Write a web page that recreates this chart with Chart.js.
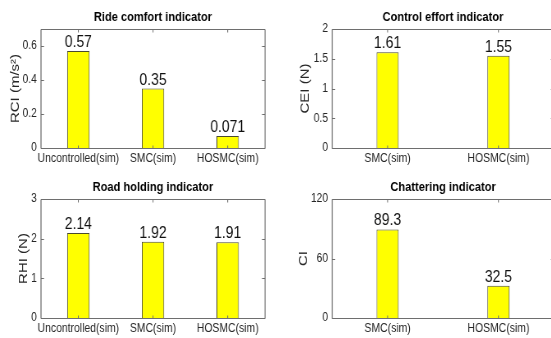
<!DOCTYPE html>
<html>
<head>
<meta charset="utf-8">
<script src="https://cdn.jsdelivr.net/npm/chart.js@4"></script>
<style>
  html, body { margin: 0; padding: 0; background: #fff; width: 551px; height: 338px; overflow: hidden; position: relative; }
  /* the source figure is squeezed sideways, so each panel is drawn wide and squeezed */
  .cell { position: absolute; height: 170px; transform: scaleX(0.82); transform-origin: 0 0; }
</style>
</head>
<body>
<div class="cell" style="left:0;top:0;width:335.4px"><canvas id="rciChart"></canvas></div>
<div class="cell" style="left:275px;top:0;width:341.5px"><canvas id="ceiChart"></canvas></div>
<div class="cell" style="left:0;top:170px;width:335.4px"><canvas id="rhiChart"></canvas></div>
<div class="cell" style="left:275px;top:170px;width:341.5px"><canvas id="ciChart"></canvas></div>
<script>
const catsAll = ['Uncontrolled(sim)', 'SMC(sim)', 'HOSMC(sim)']
const catsCtrl = ['SMC(sim)', 'HOSMC(sim)']

const rci = [0.57, 0.35, 0.071]
const cei = [1.61, 1.55]
const rhi = [2.14, 1.92, 1.91]
const ci = [89.3, 32.5]

const rciTicks = [0, 0.2, 0.4, 0.6]
const ceiTicks = [0, 0.5, 1, 1.5, 2]
const rhiTicks = [0, 1, 2, 3]
const ciTicks = [0, 60, 120]

const squeeze = 0.82
const textColor = '#262626'
const lineColor = '#6e6e6e'
const font = '"Liberation Sans", Arial, sans-serif'

// box round the plot with inward ticks, like matlab axes
const frame = {
  id: 'frame',
  afterDraw(chart) {
    const { ctx, chartArea: a, scales } = chart
    const L = a.left, R = a.right
    const T = Math.round(a.top) + 0.5, B = Math.round(a.bottom) + 0.5
    ctx.save()
    ctx.strokeStyle = lineColor
    // horizontal edges
    ctx.lineWidth = 1
    ctx.beginPath()
    ctx.moveTo(L, T); ctx.lineTo(R, T)
    ctx.moveTo(L, B); ctx.lineTo(R, B)
    scales.x.ticks.forEach((t, i) => {
      const x = scales.x.getPixelForTick(i)
      ctx.moveTo(x, B); ctx.lineTo(x, B - 3)
      ctx.moveTo(x, T); ctx.lineTo(x, T + 3)
    })
    ctx.stroke()
    // vertical edges, thicker so they survive the squeeze
    ctx.lineWidth = 1 / squeeze
    ctx.beginPath()
    ctx.moveTo(L, T); ctx.lineTo(L, B)
    ctx.moveTo(R, T); ctx.lineTo(R, B)
    ctx.stroke()
    ctx.lineWidth = 1
    ctx.beginPath()
    scales.y.ticks.forEach(t => {
      const y = Math.round(scales.y.getPixelForValue(t.value)) + 0.5
      ctx.moveTo(L, y); ctx.lineTo(L + 3.7, y)
      ctx.moveTo(R, y); ctx.lineTo(R - 3.7, y)
    })
    ctx.stroke()
    ctx.restore()
  }
}

// value written above each bar
const barValues = {
  id: 'barValues',
  afterDatasetsDraw(chart) {
    const { ctx } = chart
    const ds = chart.data.datasets[0]
    ctx.save()
    ctx.fillStyle = '#111'
    ctx.font = '17px ' + font
    ctx.textAlign = 'center'
    ctx.textBaseline = 'alphabetic'
    chart.getDatasetMeta(0).data.forEach((bar, i) => {
      ctx.fillText(String(ds.data[i]), bar.x, bar.y - 4)
    })
    ctx.restore()
  }
}

function makeChart(id, cfg) {
  return new Chart(document.getElementById(id), {
    type: 'bar',
    data: {
      labels: cfg.labels,
      datasets: [{
        data: cfg.values,
        backgroundColor: '#ffff00',
        borderColor: '#4a4a30',
        borderWidth: 1,
        barPercentage: cfg.barPct,
        categoryPercentage: 1
      }]
    },
    plugins: [frame, barValues],
    options: {
      responsive: true,
      maintainAspectRatio: false,
      animation: false,
      layout: { padding: { left: 0, right: cfg.padRight, top: 0, bottom: 0 } },
      plugins: {
        legend: { display: false },
        tooltip: { enabled: false },
        title: {
          display: true,
          text: cfg.title,
          fullSize: false,
          color: '#000',
          font: { family: font, size: 13.5, weight: 'bold', lineHeight: 1.2 },
          padding: { top: 9.5, bottom: 3.3 }
        }
      },
      scales: {
        x: {
          offset: true,
          grid: { display: false, drawTicks: false },
          border: { display: false },
          ticks: { maxRotation: 0, autoSkip: false, padding: 3, color: textColor, font: { family: font, size: 12.7 } },
          afterFit: s => { s.height = 22 }
        },
        y: {
          min: 0,
          max: cfg.max,
          grid: { display: false, drawTicks: false },
          border: { display: false },
          afterBuildTicks: s => { s.ticks = cfg.ticks.map(v => ({ value: v })) },
          ticks: { padding: 5, color: textColor, font: { family: font, size: 12.5 }, callback: v => String(v) },
          afterFit: s => { s.width = cfg.yWidth },
          title: {
            display: true,
            text: cfg.yTitle,
            color: textColor,
            font: { family: font, size: 15 },
            padding: { top: cfg.titlePad, bottom: 0 }
          }
        }
      }
    }
  })
}

makeChart('rciChart', { labels: catsAll, values: rci, ticks: rciTicks, max: 0.7, title: 'Ride comfort indicator',
  yTitle: 'RCI (m/s²)', yWidth: 50, padRight: 12.2, barPct: 0.3, titlePad: 9.6 })
makeChart('ceiChart', { labels: catsCtrl, values: cei, ticks: ceiTicks, max: 2, title: 'Control effort indicator',
  yTitle: 'CEI (N)', yWidth: 69.5, padRight: 2.4, barPct: 0.2, titlePad: 28 })
makeChart('rhiChart', { labels: catsAll, values: rhi, ticks: rhiTicks, max: 3, title: 'Road holding indicator',
  yTitle: 'RHI (N)', yWidth: 50, padRight: 12.2, barPct: 0.3, titlePad: 19.4 })
makeChart('ciChart', { labels: catsCtrl, values: ci, ticks: ciTicks, max: 120, title: 'Chattering indicator',
  yTitle: 'CI', yWidth: 69.5, padRight: 2.4, barPct: 0.2, titlePad: 25.5 })
</script>
</body>
</html>
